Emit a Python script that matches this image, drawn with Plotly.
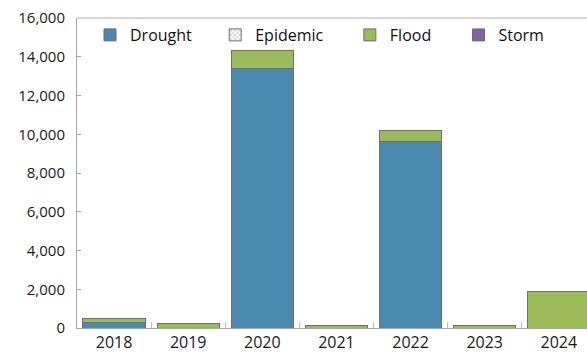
import plotly.graph_objects as go

years = ["2018", "2019", "2020", "2021", "2022", "2023", "2024"]
drought = [300, 0, 13400, 0, 9650, 0, 0]
epidemic = [0, 0, 0, 0, 0, 0, 0]
flood = [200, 220, 900, 110, 520, 150, 1900]
storm = [0, 0, 0, 0, 0, 0, 0]

FONT = "Open Sans, Noto Sans, sans-serif"
line = dict(color="#6f6f6f", width=1)

fig = go.Figure()
fig.add_bar(name="Drought", x=years, y=drought, legend="legend",
            marker=dict(color="#4a89b0", line=line))
fig.add_bar(name="Epidemic", x=years, y=epidemic, legend="legend2",
            marker=dict(color="#ffffff", line=line,
                        pattern=dict(shape="x", fgcolor="#808080", size=4, solidity=0.4)))
fig.add_bar(name="Flood", x=years, y=flood, legend="legend3",
            marker=dict(color="#9bbb59", line=line))
fig.add_bar(name="Storm", x=years, y=storm, legend="legend4",
            marker=dict(color="#8064a2", line=line))

def leg(x):
    return dict(orientation="h", x=x, y=1.0, xanchor="left", yanchor="top",
                font=dict(size=16, color="#111111"), itemwidth=30,
                bgcolor="rgba(0,0,0,0)")

fig.update_layout(
    barmode="stack",
    bargap=0.16,
    width=587, height=360,
    margin=dict(l=77, r=0, t=18, b=32),
    paper_bgcolor="white", plot_bgcolor="white",
    font=dict(family=FONT, size=15, color="#1a1a1a"),
    showlegend=True,
    legend=leg(0.0255), legend2=leg(0.271), legend3=leg(0.535), legend4=leg(0.748),
)
fig.update_xaxes(range=[-0.5, 6.38], showline=True, linecolor="#a6a6a6", linewidth=1,
                 ticks="inside", tickson="boundaries", ticklen=6, tickcolor="#bfbfbf",
                 showgrid=False, mirror=False, tickfont=dict(size=16))
fig.update_yaxes(range=[0, 16000], dtick=2000, tickformat=",", showline=True,
                 linecolor="#a6a6a6", linewidth=1, ticks="inside", ticklen=4,
                 tickcolor="#a6a6a6", showgrid=False, zeroline=False,
                 tickfont=dict(size=15), ticklabelstandoff=8)
fig.add_shape(type="line", xref="paper", yref="paper", x0=0, x1=1, y0=1, y1=1,
              line=dict(color="#c8c8c8", width=1.5))
fig.write_html("out.html")
